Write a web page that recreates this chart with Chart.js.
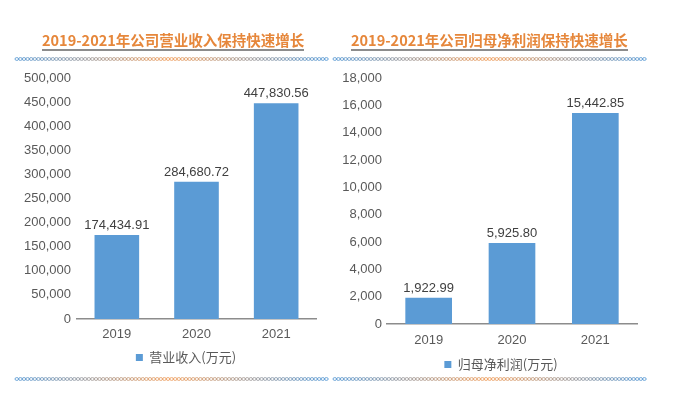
<!DOCTYPE html>
<html>
<head>
<meta charset="utf-8">
<script src="https://cdn.jsdelivr.net/npm/chart.js@4/dist/chart.umd.min.js"></script>
<style>
  html, body { margin: 0; padding: 0; background: #ffffff; }
  body { width: 678px; height: 395px; position: relative; overflow: hidden; }
  #deco { position: absolute; left: 0; top: 0; }
  .title {
    position: absolute; top: 31px; height: 18px; line-height: 18px;
    font-family: "Noto Sans CJK SC", "Liberation Sans", sans-serif;
    font-weight: bold; font-size: 14.5px; color: #e6873b; white-space: nowrap;
    border-bottom: 2px solid #8c8c8c; padding-bottom: 0px;
  }
  .box { position: absolute; top: 60px; }
</style>
</head>
<body>
<canvas id="deco" width="678" height="395"></canvas>
<div class="title" id="t1" style="left:42px;">2019-2021年公司营业收入保持快速增长</div>
<div class="title" id="t2" style="left:351px;">2019-2021年公司归母净利润保持快速增长</div>
<div class="box" style="left:0px;"><canvas id="c1" width="372" height="314"></canvas></div>
<div class="box" style="left:338px;"><canvas id="c2" width="326" height="321"></canvas></div>
<script>
const categories = ["2019", "2020", "2021"];
const revenueValues = [174434.91, 284680.72, 447830.56];
const profitValues = [1922.99, 5925.80, 15442.85];
const revenueLabel = "营业收入(万元)";
const profitLabel = "归母净利润(万元)";
const revenueTicks = { min: 0, max: 500000, step: 50000 };
const profitTicks = { min: 0, max: 18000, step: 2000 };

// decorative chain lines
(function () {
  const cv = document.getElementById('deco');
  const ctx = cv.getContext('2d');
  function chain(x0, x1, y) {
    const g = ctx.createLinearGradient(x0, 0, x1, 0);
    g.addColorStop(0, '#5b9bd5');
    g.addColorStop(0.5, '#f0a060');
    g.addColorStop(1, '#5b9bd5');
    ctx.strokeStyle = g;
    ctx.lineWidth = 0.9;
    for (let x = x0; x < x1; x += 3.6) {
      ctx.beginPath();
      ctx.ellipse(x + 1.8, y, 1.8, 1.4, 0, 0, Math.PI * 2);
      ctx.stroke();
    }
  }
  chain(15, 325, 59);
  chain(333, 645, 59);
  chain(15, 325, 379);
  chain(333, 644, 379);
})();

Chart.defaults.font.family = '"Liberation Sans", "Noto Sans CJK SC", sans-serif';
Chart.defaults.font.size = 13;
Chart.defaults.color = '#595959';

const valueLabels = {
  id: 'valueLabels',
  afterDatasetsDraw(chart) {
    const ctx = chart.ctx;
    ctx.save();
    ctx.font = '13px "Liberation Sans", sans-serif';
    ctx.fillStyle = '#404040';
    ctx.textAlign = 'center';
    ctx.textBaseline = 'bottom';
    const meta = chart.getDatasetMeta(0);
    const data = chart.data.datasets[0].data;
    meta.data.forEach((bar, i) => {
      const txt = data[i].toLocaleString('en-US', { minimumFractionDigits: 2, maximumFractionDigits: 2 });
      ctx.fillText(txt, bar.x, bar.y - 3);
    });
    ctx.restore();
  }
};

function makeChart(id, values, label, tk, yWidth, y2Width, yPad, xPad, legPad) {
  return new Chart(document.getElementById(id), {
    type: 'bar',
    data: {
      labels: categories,
      datasets: [{
        label: label,
        data: values,
        backgroundColor: '#5b9bd5',
        borderWidth: 0,
        categoryPercentage: 0.7,
        barPercentage: 0.8
      }]
    },
    options: {
      responsive: false,
      animation: false,
      layout: { padding: { left: 0, right: 0, top: 18, bottom: 0 } },
      plugins: {
        legend: {
          position: 'bottom',
          labels: {
            boxWidth: 7, boxHeight: 7, padding: legPad,
            color: '#595959',
            font: { size: 13, lineHeight: 1, family: '"Noto Sans CJK SC", "Liberation Sans", sans-serif' }
          }
        },
        tooltip: { enabled: false }
      },
      scales: {
        x: {
          grid: { display: false, drawTicks: false },
          border: { display: true, color: '#8c8c8c', width: 1.5 },
          ticks: { padding: xPad, color: '#595959', font: { size: 13, lineHeight: 1 } }
        },
        y: {
          position: 'left',
          min: tk.min, max: tk.max,
          grid: { display: false, drawTicks: false },
          border: { display: false },
          ticks: {
            stepSize: tk.step, padding: yPad, color: '#595959', font: { size: 13 },
            callback: v => Number(v).toLocaleString('en-US')
          },
          afterFit(scale) { scale.width = yWidth; }
        },
        yRight: {
          type: 'linear',
          position: 'right',
          min: tk.min, max: tk.max,
          grid: { display: false, drawTicks: false },
          border: { display: false },
          ticks: { display: false },
          afterFit(scale) { scale.width = y2Width; }
        }
      }
    },
    plugins: [valueLabels]
  });
}

makeChart('c1', revenueValues, revenueLabel, revenueTicks, 77, 56, 6, 9, 1);
makeChart('c2', profitValues, profitLabel, profitTicks, 49, 27, 5, 10, 1);
</script>
</body>
</html>
